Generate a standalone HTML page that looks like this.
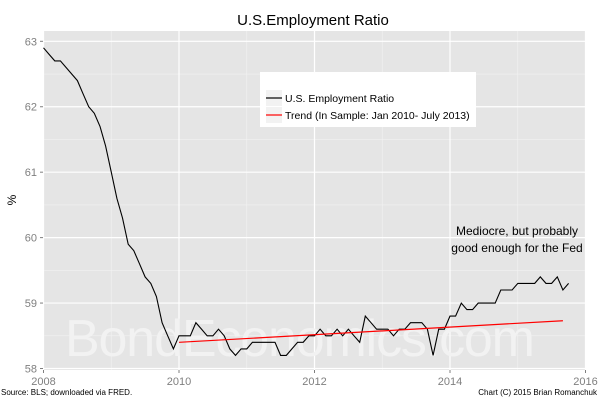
<!DOCTYPE html>
<html><head><meta charset="utf-8"><style>
body{margin:0;background:#fff;}
svg{display:block;font-family:"Liberation Sans",Arial,sans-serif;}
</style></head><body>
<svg id="chart" width="600" height="400">
<text x="313" y="25" font-size="15" text-anchor="middle" fill="#000">U.S.Employment Ratio</text>
<rect x="43" y="31" width="542" height="339" fill="#e5e5e5"/>
<g id="grid"></g>
<text x="300" y="356" font-size="52" text-anchor="middle" fill="#f2f2f2" textLength="470">BondEconomics.com</text>
<g id="series"></g>
<g id="axes"></g>
<text x="16" y="200" font-size="12" text-anchor="middle" transform="rotate(-90 16 200)">%</text>
<g>
<rect x="260" y="72" width="216" height="55" fill="#fff"/>
<rect x="266" y="90" width="16" height="16" fill="#f2f2f2"/>
<rect x="266" y="107" width="16" height="16" fill="#f2f2f2"/>
<line x1="266" y1="98" x2="282" y2="98" stroke="#000" stroke-width="1.2"/>
<line x1="266" y1="115" x2="282" y2="115" stroke="#f00" stroke-width="1.2"/>
<text x="285" y="102" font-size="10.5">U.S. Employment Ratio</text>
<text x="285" y="119" font-size="10.5">Trend (In Sample: Jan 2010- July 2013)</text>
</g>
<text x="517" y="235" font-size="12" text-anchor="middle">Mediocre, but probably</text>
<text x="517" y="252" font-size="12" text-anchor="middle">good enough for the Fed</text>
<text x="1" y="395" font-size="8">Source: BLS; downloaded via FRED.</text>
<text x="597" y="395" font-size="8" text-anchor="end">Chart (C) 2015 Brian Romanchuk</text>
</svg>
<script>
const startYear = 2008;
const employment = [62.9,62.8,62.7,62.7,62.6,62.5,62.4,62.2,62.0,61.9,61.7,61.4,
61.0,60.6,60.3,59.9,59.8,59.6,59.4,59.3,59.1,58.7,58.5,58.3,
58.5,58.5,58.5,58.7,58.6,58.5,58.5,58.6,58.5,58.3,58.2,58.3,
58.3,58.4,58.4,58.4,58.4,58.4,58.2,58.2,58.3,58.4,58.4,58.5,
58.5,58.6,58.5,58.5,58.6,58.5,58.6,58.5,58.4,58.8,58.7,58.6,
58.6,58.6,58.5,58.6,58.6,58.7,58.7,58.7,58.6,58.2,58.6,58.6,
58.8,58.8,59.0,58.9,58.9,59.0,59.0,59.0,59.0,59.2,59.2,59.2,
59.3,59.3,59.3,59.3,59.4,59.3,59.3,59.4,59.2,59.3];
const trendStart = [2010, 58.40];
const trendEnd = [2015 + 8/12, 58.73];
const xTicks = [2008,2010,2012,2014,2016];
const yTicks = [58,59,60,61,62,63];

const X = t => 43.5 + (t - 2008) * 67.75;
const Y = v => 368.5 - (v - 58) * 65.44;
const ns = "http://www.w3.org/2000/svg";
function mk(tag, attrs, parent){const e=document.createElementNS(ns,tag);for(const k in attrs)e.setAttribute(k,attrs[k]);parent.appendChild(e);return e;}
const grid=document.getElementById('grid'), axes=document.getElementById('axes'), series=document.getElementById('series');
for(let t=2009;t<=2015;t+=2){const l=mk('line',{x1:X(t),x2:X(t),y1:31,y2:370,stroke:'#f2f2f2','stroke-width':0.6},grid);

}
for(let v=58.5;v<63;v+=1){const l=mk('line',{x1:43,x2:585,y1:Y(v),y2:Y(v),stroke:'#f2f2f2','stroke-width':0.6},grid);

}
xTicks.forEach(t=>{const l=mk('line',{x1:X(t),x2:X(t),y1:31,y2:370,stroke:'#fff','stroke-width':1.2},grid);


mk('line',{x1:X(t),x2:X(t),y1:370,y2:373,stroke:'#7f7f7f'},axes);
const tx=mk('text',{x:X(t),y:385,'font-size':11,'text-anchor':'middle',fill:'#7f7f7f'},axes);tx.textContent=t;

});
yTicks.forEach(v=>{const l=mk('line',{x1:43,x2:585,y1:Y(v),y2:Y(v),stroke:'#fff','stroke-width':1.2},grid);


mk('line',{x1:40,x2:43,y1:Y(v),y2:Y(v),stroke:'#7f7f7f'},axes);
const tx=mk('text',{x:37,y:Y(v)+4,'font-size':11,'text-anchor':'end',fill:'#7f7f7f'},axes);tx.textContent=v;

});
const pts=employment.map((v,i)=>X(startYear+i/12).toFixed(1)+','+Y(v).toFixed(1)).join(' ');
const pl=mk('polyline',{points:pts,fill:'none',stroke:'#000','stroke-width':1.1},series);


const tr=mk('line',{x1:X(trendStart[0]),y1:Y(trendStart[1]),x2:X(trendEnd[0]),y2:Y(trendEnd[1]),stroke:'#f00','stroke-width':1.2},series);


</script>
</body></html>
